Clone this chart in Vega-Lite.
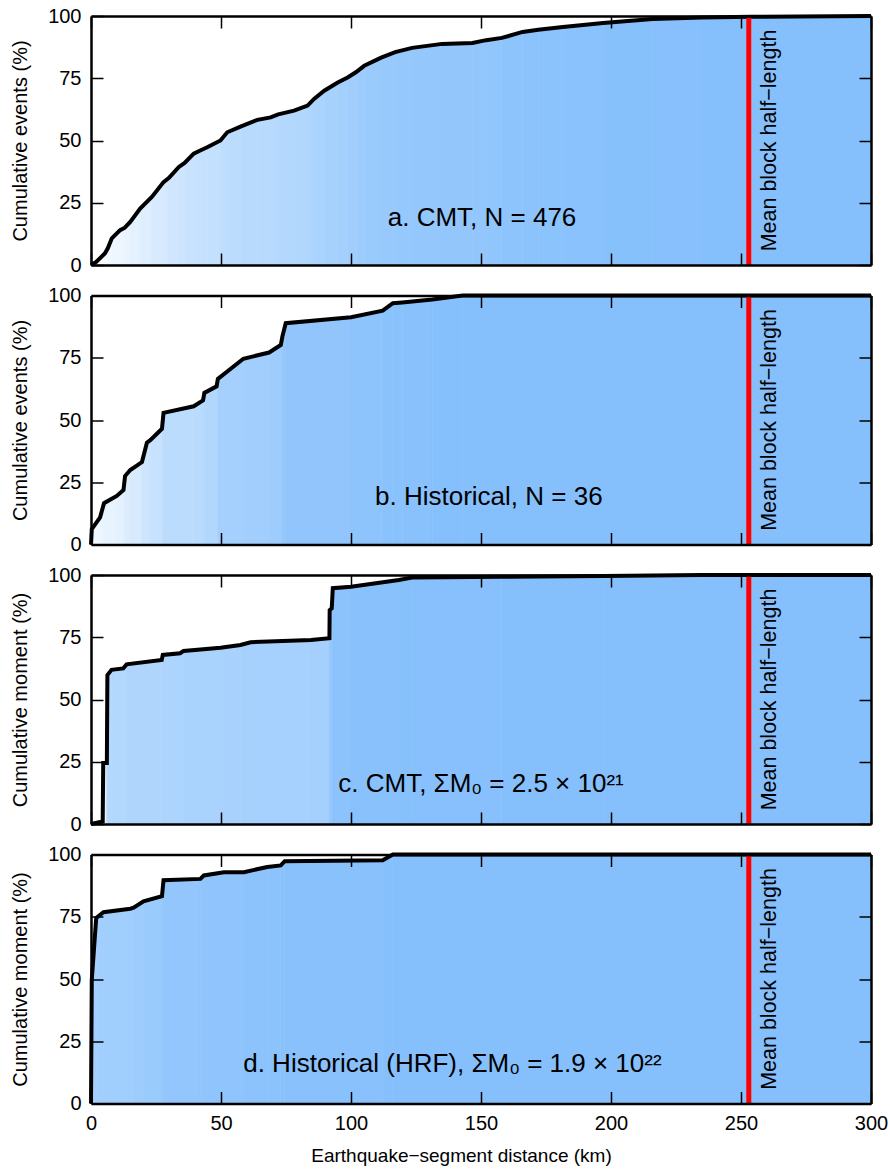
{
  "$schema": "https://vega.github.io/schema/vega-lite/v6.json",
  "padding": {"left": 10, "top": 6, "right": 10, "bottom": 5},
  "background": "white",
  "datasets": {
    "a": [
      {"d":0,"v":0},{"d":2,"v":1.2},{"d":5.4,"v":4.7},{"d":6.5,"v":6.8},{"d":8,"v":10.7},{"d":11.2,"v":14},{"d":13,"v":15},{"d":15.1,"v":17.3},{"d":18.9,"v":22.7},{"d":23.4,"v":27.3},{"d":27.9,"v":33.3},{"d":30,"v":35},{"d":33.7,"v":39.3},{"d":36,"v":41},{"d":39.5,"v":44.7},{"d":42,"v":46},{"d":44.7,"v":47.3},{"d":49.8,"v":50},{"d":52.4,"v":53.3},{"d":57.5,"v":55.6},{"d":64,"v":58.3},{"d":69.1,"v":59.3},{"d":72,"v":60.5},{"d":78.1,"v":62},{"d":83.3,"v":64},{"d":85.8,"v":66.7},{"d":89.7,"v":70},{"d":94.9,"v":73.3},{"d":98.7,"v":75.3},{"d":102,"v":77.5},{"d":105.1,"v":80},{"d":111.6,"v":83.3},{"d":117,"v":85.5},{"d":123.5,"v":87.2},{"d":135,"v":88.8},{"d":146.7,"v":89.2},{"d":152,"v":90.3},{"d":158,"v":91.2},{"d":166,"v":93.6},{"d":172,"v":94.5},{"d":181.5,"v":95.6},{"d":197,"v":97.2},{"d":216,"v":98.8},{"d":235,"v":99.4},{"d":254,"v":99.7},{"d":300,"v":100}
    ],
    "b": [
      {"d":0,"v":0},{"d":0.3,"v":6.2},{"d":3.5,"v":10.9},{"d":5,"v":16.6},{"d":9.9,"v":19.5},{"d":12.5,"v":21.9},{"d":13.1,"v":27.5},{"d":15.1,"v":29.9},{"d":19.6,"v":33.1},{"d":21.5,"v":40.9},{"d":22.8,"v":41.9},{"d":27.3,"v":46.5},{"d":27.9,"v":52.9},{"d":39.5,"v":55.5},{"d":43.1,"v":57.9},{"d":43.6,"v":60.9},{"d":48.3,"v":63.5},{"d":48.8,"v":66.5},{"d":58.6,"v":74.6},{"d":68.5,"v":77.1},{"d":73,"v":80.1},{"d":73.6,"v":83.5},{"d":74.9,"v":88.9},{"d":100,"v":91.3},{"d":112.2,"v":93.9},{"d":116.1,"v":96.9},{"d":119.7,"v":97.2},{"d":131.3,"v":98.4},{"d":142.9,"v":100},{"d":300,"v":100}
    ],
    "c": [
      {"d":0,"v":0},{"d":4.5,"v":1},{"d":4.7,"v":24.5},{"d":6.1,"v":24.5},{"d":6.3,"v":59.8},{"d":7.9,"v":61.9},{"d":12.4,"v":62.5},{"d":13.7,"v":64.1},{"d":27.2,"v":65.9},{"d":27.6,"v":67.9},{"d":34.3,"v":68.6},{"d":35.6,"v":69.5},{"d":49.8,"v":70.8},{"d":57.5,"v":71.9},{"d":61.4,"v":73},{"d":84.6,"v":73.9},{"d":91.7,"v":74.6},{"d":91.8,"v":85.9},{"d":92.6,"v":86.6},{"d":93,"v":94.7},{"d":100,"v":95.3},{"d":118.4,"v":98},{"d":123.5,"v":99},{"d":158,"v":99.3},{"d":197,"v":99.6},{"d":235,"v":100},{"d":300,"v":100}
    ],
    "d": [
      {"d":0,"v":0},{"d":0.3,"v":49.8},{"d":2,"v":74.5},{"d":4.8,"v":76.8},{"d":15.1,"v":78.2},{"d":16.4,"v":78.6},{"d":20.2,"v":81.2},{"d":27.3,"v":83.3},{"d":27.9,"v":89.7},{"d":42.1,"v":90.2},{"d":43.4,"v":91.6},{"d":51.1,"v":92.9},{"d":58.8,"v":92.9},{"d":67.8,"v":95},{"d":73,"v":95.6},{"d":74.5,"v":97.3},{"d":112.2,"v":97.7},{"d":116.1,"v":100},{"d":300,"v":100}
    ]
  },
  "spacing": 10.5,
  "vconcat": [
    {
      "width": 780, "height": 249,
      "data": {"name": "a"},
      "resolve": {"axis": {"x": "independent", "y": "independent"}},
      "layer": [
        {
          "transform": [{"window": [{"op": "lead", "field": "d", "as": "d2"}, {"op": "lead", "field": "v", "as": "v2"}]}, {"filter": "datum.d2 != null"}],
          "mark": {"type": "rect", "strokeWidth": 0.6},
          "encoding": {
            "x": {"field": "d", "type": "quantitative", "scale": {"domain": [0, 300], "nice": false, "zero": false}, "axis": {"orient": "bottom", "values": [0,50,100,150,200,250,300], "labels": false, "labelPadding": 0, "title": null, "zindex": 1}},
            "x2": {"field": "d2"},
            "y": {"datum": 0, "type": "quantitative", "scale": {"domain": [0, 100], "nice": false}, "axis": {"orient": "left", "values": [0,25,50,75,100], "title": "Cumulative events (%)", "zindex": 1}},
            "y2": {"datum": 100},
            "color": {"field": "v2", "type": "quantitative", "scale": {"domain": [0, 100], "range": ["#ffffff", "#86c0fc"], "interpolate": "rgb"}, "legend": null},
            "stroke": {"field": "v2", "type": "quantitative", "scale": {"domain": [0, 100], "range": ["#ffffff", "#86c0fc"], "interpolate": "rgb"}, "legend": null}
          }
        },
        {
          "mark": {"type": "area", "color": "white"},
          "encoding": {
            "x": {"field": "d", "type": "quantitative", "axis": {"orient": "top", "values": [0,50,100,150,200,250,300], "labels": false, "labelPadding": 0, "title": null, "zindex": 1}},
            "y": {"field": "v", "type": "quantitative", "axis": {"orient": "right", "values": [0,25,50,75,100], "labels": false, "labelPadding": 0, "title": null, "zindex": 1}},
            "y2": {"datum": 100},
            "order": {"value": null}
          }
        },
        {
          "mark": {"type": "line", "color": "black", "strokeWidth": 4},
          "encoding": {
            "x": {"field": "d", "type": "quantitative", "axis": null},
            "y": {"field": "v", "type": "quantitative", "axis": null},
            "order": {"value": null}
          }
        },
        {
          "data": {"values": [{}]},
          "mark": {"type": "rule", "color": "#ff0000", "strokeWidth": 5},
          "encoding": {"x": {"datum": 253, "type": "quantitative", "axis": null}}
        },
        {
          "data": {"values": [{}]},
          "mark": {"type": "text", "fontSize": 26, "color": "black", "align": "center", "baseline": "middle"},
          "encoding": {"x": {"datum": 150.4, "type": "quantitative", "axis": null}, "y": {"datum": 19, "type": "quantitative", "axis": null}, "text": {"value": "a. CMT, N = 476"}}
        },
        {
          "data": {"values": [{}]},
          "mark": {"type": "text", "fontSize": 21.5, "color": "black", "align": "center", "baseline": "middle", "angle": 270},
          "encoding": {"x": {"datum": 261.3, "type": "quantitative", "axis": null}, "y": {"datum": 50, "type": "quantitative", "axis": null}, "text": {"value": "Mean block half−length"}}
        }
      ]
    },
    {
      "width": 780, "height": 249,
      "data": {"name": "b"},
      "resolve": {"axis": {"x": "independent", "y": "independent"}},
      "layer": [
        {
          "transform": [{"window": [{"op": "lead", "field": "d", "as": "d2"}, {"op": "lead", "field": "v", "as": "v2"}]}, {"filter": "datum.d2 != null"}],
          "mark": {"type": "rect", "strokeWidth": 0.6},
          "encoding": {
            "x": {"field": "d", "type": "quantitative", "scale": {"domain": [0, 300], "nice": false, "zero": false}, "axis": {"orient": "bottom", "values": [0,50,100,150,200,250,300], "labels": false, "labelPadding": 0, "title": null, "zindex": 1}},
            "x2": {"field": "d2"},
            "y": {"datum": 0, "type": "quantitative", "scale": {"domain": [0, 100], "nice": false}, "axis": {"orient": "left", "values": [0,25,50,75,100], "title": "Cumulative events (%)", "zindex": 1}},
            "y2": {"datum": 100},
            "color": {"field": "v2", "type": "quantitative", "scale": {"domain": [0, 100], "range": ["#ffffff", "#86c0fc"], "interpolate": "rgb"}, "legend": null},
            "stroke": {"field": "v2", "type": "quantitative", "scale": {"domain": [0, 100], "range": ["#ffffff", "#86c0fc"], "interpolate": "rgb"}, "legend": null}
          }
        },
        {
          "mark": {"type": "area", "color": "white"},
          "encoding": {
            "x": {"field": "d", "type": "quantitative", "axis": {"orient": "top", "values": [0,50,100,150,200,250,300], "labels": false, "labelPadding": 0, "title": null, "zindex": 1}},
            "y": {"field": "v", "type": "quantitative", "axis": {"orient": "right", "values": [0,25,50,75,100], "labels": false, "labelPadding": 0, "title": null, "zindex": 1}},
            "y2": {"datum": 100},
            "order": {"value": null}
          }
        },
        {
          "mark": {"type": "line", "color": "black", "strokeWidth": 4},
          "encoding": {
            "x": {"field": "d", "type": "quantitative", "axis": null},
            "y": {"field": "v", "type": "quantitative", "axis": null},
            "order": {"value": null}
          }
        },
        {
          "data": {"values": [{}]},
          "mark": {"type": "rule", "color": "#ff0000", "strokeWidth": 5},
          "encoding": {"x": {"datum": 253, "type": "quantitative", "axis": null}}
        },
        {
          "data": {"values": [{}]},
          "mark": {"type": "text", "fontSize": 26, "color": "black", "align": "center", "baseline": "middle"},
          "encoding": {"x": {"datum": 153, "type": "quantitative", "axis": null}, "y": {"datum": 19, "type": "quantitative", "axis": null}, "text": {"value": "b. Historical, N = 36"}}
        },
        {
          "data": {"values": [{}]},
          "mark": {"type": "text", "fontSize": 21.5, "color": "black", "align": "center", "baseline": "middle", "angle": 270},
          "encoding": {"x": {"datum": 261.3, "type": "quantitative", "axis": null}, "y": {"datum": 50, "type": "quantitative", "axis": null}, "text": {"value": "Mean block half−length"}}
        }
      ]
    },
    {
      "width": 780, "height": 249,
      "data": {"name": "c"},
      "resolve": {"axis": {"x": "independent", "y": "independent"}},
      "layer": [
        {
          "transform": [{"window": [{"op": "lead", "field": "d", "as": "d2"}, {"op": "lead", "field": "v", "as": "v2"}]}, {"filter": "datum.d2 != null"}],
          "mark": {"type": "rect", "strokeWidth": 0.6},
          "encoding": {
            "x": {"field": "d", "type": "quantitative", "scale": {"domain": [0, 300], "nice": false, "zero": false}, "axis": {"orient": "bottom", "values": [0,50,100,150,200,250,300], "labels": false, "labelPadding": 0, "title": null, "zindex": 1}},
            "x2": {"field": "d2"},
            "y": {"datum": 0, "type": "quantitative", "scale": {"domain": [0, 100], "nice": false}, "axis": {"orient": "left", "values": [0,25,50,75,100], "title": "Cumulative moment (%)", "zindex": 1}},
            "y2": {"datum": 100},
            "color": {"field": "v2", "type": "quantitative", "scale": {"domain": [0, 100], "range": ["#ffffff", "#86c0fc"], "interpolate": "rgb"}, "legend": null},
            "stroke": {"field": "v2", "type": "quantitative", "scale": {"domain": [0, 100], "range": ["#ffffff", "#86c0fc"], "interpolate": "rgb"}, "legend": null}
          }
        },
        {
          "mark": {"type": "area", "color": "white"},
          "encoding": {
            "x": {"field": "d", "type": "quantitative", "axis": {"orient": "top", "values": [0,50,100,150,200,250,300], "labels": false, "labelPadding": 0, "title": null, "zindex": 1}},
            "y": {"field": "v", "type": "quantitative", "axis": {"orient": "right", "values": [0,25,50,75,100], "labels": false, "labelPadding": 0, "title": null, "zindex": 1}},
            "y2": {"datum": 100},
            "order": {"value": null}
          }
        },
        {
          "mark": {"type": "line", "color": "black", "strokeWidth": 4},
          "encoding": {
            "x": {"field": "d", "type": "quantitative", "axis": null},
            "y": {"field": "v", "type": "quantitative", "axis": null},
            "order": {"value": null}
          }
        },
        {
          "data": {"values": [{}]},
          "mark": {"type": "rule", "color": "#ff0000", "strokeWidth": 5},
          "encoding": {"x": {"datum": 253, "type": "quantitative", "axis": null}}
        },
        {
          "data": {"values": [{}]},
          "mark": {"type": "text", "fontSize": 26, "color": "black", "align": "center", "baseline": "middle"},
          "encoding": {"x": {"datum": 150, "type": "quantitative", "axis": null}, "y": {"datum": 16, "type": "quantitative", "axis": null}, "text": {"value": "c. CMT, ΣM₀ = 2.5 × 10²¹"}}
        },
        {
          "data": {"values": [{}]},
          "mark": {"type": "text", "fontSize": 21.5, "color": "black", "align": "center", "baseline": "middle", "angle": 270},
          "encoding": {"x": {"datum": 261.3, "type": "quantitative", "axis": null}, "y": {"datum": 50, "type": "quantitative", "axis": null}, "text": {"value": "Mean block half−length"}}
        }
      ]
    },
    {
      "width": 780, "height": 249,
      "data": {"name": "d"},
      "resolve": {"axis": {"x": "independent", "y": "independent"}},
      "layer": [
        {
          "transform": [{"window": [{"op": "lead", "field": "d", "as": "d2"}, {"op": "lead", "field": "v", "as": "v2"}]}, {"filter": "datum.d2 != null"}],
          "mark": {"type": "rect", "strokeWidth": 0.6},
          "encoding": {
            "x": {"field": "d", "type": "quantitative", "scale": {"domain": [0, 300], "nice": false, "zero": false}, "axis": {"orient": "bottom", "values": [0,50,100,150,200,250,300], "title": "Earthquake−segment distance (km)", "titleFontSize": 19, "titleX": 370, "titlePadding": 13, "zindex": 1}},
            "x2": {"field": "d2"},
            "y": {"datum": 0, "type": "quantitative", "scale": {"domain": [0, 100], "nice": false}, "axis": {"orient": "left", "values": [0,25,50,75,100], "title": "Cumulative moment (%)", "zindex": 1}},
            "y2": {"datum": 100},
            "color": {"field": "v2", "type": "quantitative", "scale": {"domain": [0, 100], "range": ["#ffffff", "#86c0fc"], "interpolate": "rgb"}, "legend": null},
            "stroke": {"field": "v2", "type": "quantitative", "scale": {"domain": [0, 100], "range": ["#ffffff", "#86c0fc"], "interpolate": "rgb"}, "legend": null}
          }
        },
        {
          "mark": {"type": "area", "color": "white"},
          "encoding": {
            "x": {"field": "d", "type": "quantitative", "axis": {"orient": "top", "values": [0,50,100,150,200,250,300], "labels": false, "labelPadding": 0, "title": null, "zindex": 1}},
            "y": {"field": "v", "type": "quantitative", "axis": {"orient": "right", "values": [0,25,50,75,100], "labels": false, "labelPadding": 0, "title": null, "zindex": 1}},
            "y2": {"datum": 100},
            "order": {"value": null}
          }
        },
        {
          "mark": {"type": "line", "color": "black", "strokeWidth": 4},
          "encoding": {
            "x": {"field": "d", "type": "quantitative", "axis": null},
            "y": {"field": "v", "type": "quantitative", "axis": null},
            "order": {"value": null}
          }
        },
        {
          "data": {"values": [{}]},
          "mark": {"type": "rule", "color": "#ff0000", "strokeWidth": 5},
          "encoding": {"x": {"datum": 253, "type": "quantitative", "axis": null}}
        },
        {
          "data": {"values": [{}]},
          "mark": {"type": "text", "fontSize": 26, "color": "black", "align": "center", "baseline": "middle"},
          "encoding": {"x": {"datum": 139, "type": "quantitative", "axis": null}, "y": {"datum": 16, "type": "quantitative", "axis": null}, "text": {"value": "d. Historical (HRF), ΣM₀ = 1.9 × 10²²"}}
        },
        {
          "data": {"values": [{}]},
          "mark": {"type": "text", "fontSize": 21.5, "color": "black", "align": "center", "baseline": "middle", "angle": 270},
          "encoding": {"x": {"datum": 261.3, "type": "quantitative", "axis": null}, "y": {"datum": 50, "type": "quantitative", "axis": null}, "text": {"value": "Mean block half−length"}}
        }
      ]
    }
  ],
  "config": {
    "font": "Liberation Sans",
    "view": {"stroke": null},
    "axis": {
      "domainColor": "black", "domainWidth": 2.5,
      "tickColor": "black", "tickWidth": 1.5, "tickSize": -12,
      "labelPadding": 22, "labelFontSize": 20, "labelColor": "black", "labelFlush": false, "labelOverlap": false,
      "titleFontSize": 20, "titleFontWeight": "normal", "titleColor": "black", "titlePadding": 17,
      "grid": false
    }
  }
}
